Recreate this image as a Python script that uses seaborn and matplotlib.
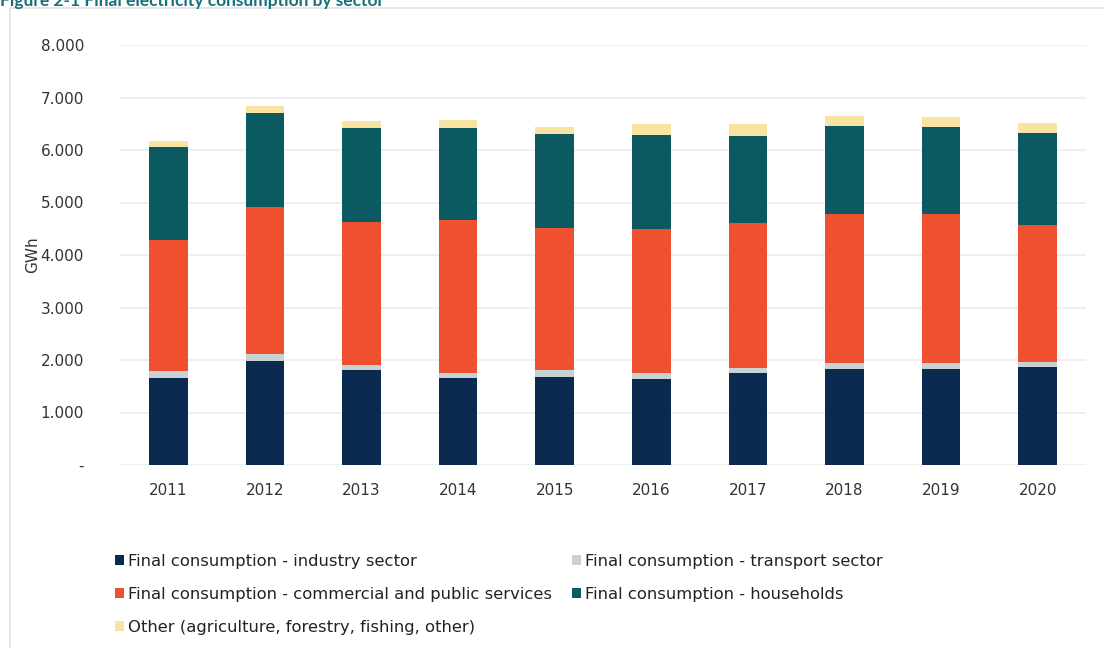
import matplotlib
matplotlib.use("Agg")
import matplotlib.pyplot as plt
from matplotlib.patches import Rectangle, Patch
import seaborn as sns
import numpy as np

years = ["2011", "2012", "2013", "2014", "2015", "2016", "2017", "2018", "2019", "2020"]
industry = [1650, 1990, 1810, 1650, 1685, 1645, 1745, 1830, 1830, 1860]
transport = [145, 115, 95, 110, 125, 100, 95, 105, 105, 95]
commercial = [2490, 2815, 2730, 2905, 2700, 2750, 2765, 2845, 2845, 2615]
households = [1775, 1780, 1780, 1745, 1790, 1800, 1665, 1685, 1665, 1745]
other = [110, 140, 145, 155, 145, 195, 220, 190, 180, 205]

series_names = [
    "Final consumption - industry sector",
    "Final consumption - transport sector",
    "Final consumption - commercial and public services",
    "Final consumption - households",
    "Other (agriculture, forestry, fishing, other)",
]
series_values = [industry, transport, commercial, households, other]
series_colors = ["#0b2a50", "#c9d2d3", "#ee5030", "#0b5a61", "#f9e3a3"]

sns.set_theme(style="white")
plt.rcParams["font.family"] = ["DejaVu Sans"]

fig = plt.figure(figsize=(11.03, 6.48), dpi=100)
ax = fig.add_axes([120 / 1103, 1 - 465 / 648, (1086 - 120) / 1103, (465 - 45) / 648])

bottom = np.zeros(len(years))
for name, vals, col in zip(series_names, series_values, series_colors):
    sns.barplot(x=years, y=vals, bottom=bottom, color=col, width=0.4,
                ax=ax, saturation=1, linewidth=0)
    bottom = bottom + np.array(vals)

ax.set_ylim(0, 8000)
ax.set_xlim(-0.5, len(years) - 0.5)
yt = np.arange(0, 8001, 1000)
ax.set_yticks(yt)
ax.set_yticklabels(["-" if v == 0 else f"{v:,.0f}".replace(",", ".") for v in yt])
ax.yaxis.grid(True, color="#ebebeb", linewidth=1.1)
ax.set_axisbelow(True)
for s in ax.spines.values():
    s.set_visible(False)
ax.tick_params(axis="both", length=0, labelsize=11, labelcolor="#333333")
ax.tick_params(axis="y", pad=26)
ax.tick_params(axis="x", pad=13)
ax.set_xlabel("")
ax.set_ylabel("GWh", fontsize=11, color="#333333", labelpad=0)

# Legend in row-major order across two columns
handles = [Patch(facecolor=c, edgecolor="none") for c in series_colors]
order = [0, 2, 4, 1, 3]
leg = fig.legend([handles[i] for i in order], [series_names[i] for i in order],
                 loc="upper left", bbox_to_anchor=(115 / 1103, 1 - 554 / 648),
                 ncol=2, frameon=False, fontsize=11.8, handlelength=0.55,
                 handleheight=0.55, handletextpad=0.25, columnspacing=1.2,
                 labelspacing=1.1, borderpad=0, borderaxespad=0,
                 labelcolor="#222222")

# Chart frame
fig.patches.append(Rectangle((10 / 1103, -0.05), 1.2, 1 - 8 / 648 + 0.05,
                             transform=fig.transFigure, fill=False,
                             edgecolor="#e2e2e2", linewidth=1.2))

fig.text(0.0, 1 - 6 / 648, "Figure 2-1 Final electricity consumption by sector",
         color="#17707a", fontsize=12.5, fontweight="bold", va="baseline", ha="left",
         family=["Lato", "DejaVu Sans"])

fig.savefig("out.png", dpi=100, facecolor="white")
